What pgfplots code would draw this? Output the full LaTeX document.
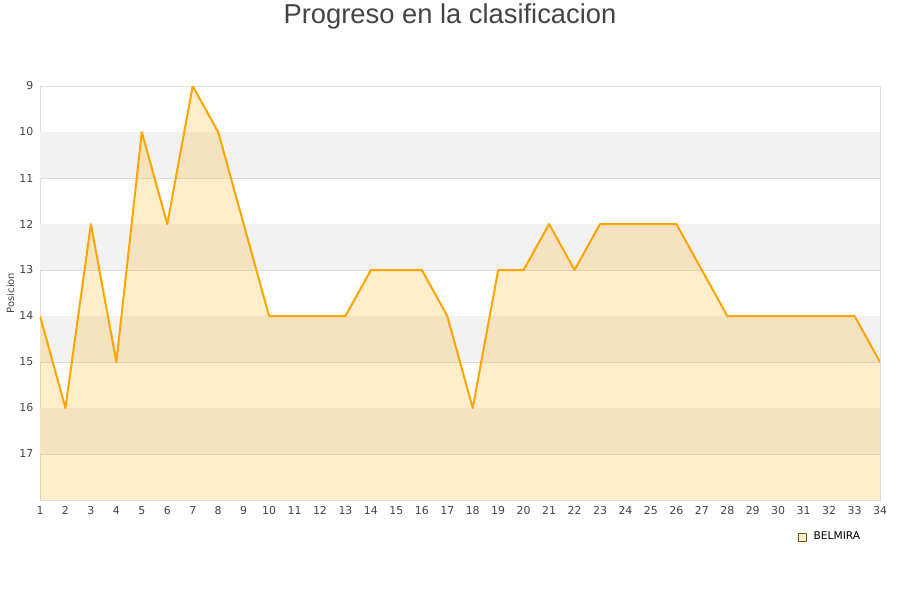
\documentclass[border=0pt]{standalone}
\usepackage{pgfplots}
\pgfplotsset{compat=1.18}
\usepackage{fontspec}
\setmainfont{DejaVu Sans}
\newfontfamily\titlefont{Liberation Sans}
\definecolor{ln}{HTML}{FFA500}
\definecolor{band}{HTML}{F2F2F2}
\definecolor{gridc}{HTML}{DDDDDD}
\definecolor{txt}{HTML}{444444}
\begin{document}
\begin{tikzpicture}
\useasboundingbox (0pt,0pt) rectangle (675pt,450pt);
\node[font=\titlefont\fontsize{20.5}{23}\selectfont, text=txt] at (337.5pt,437.5pt) {Progreso en la clasificacion};
\begin{axis}[
  at={(30pt,75pt)}, anchor=south west,
  scale only axis, width=630pt, height=310.5pt,
  xmin=1, xmax=34, ymin=9, ymax=18,
  y dir=reverse,
  xtick={1,...,34}, ytick={9,...,17},
  axis line style={gridc},
  ymajorgrids, grid style={gridc, line width=0.6pt},
  tick style={draw=none},
  tick label style={font=\fontsize{8.2}{9}\selectfont, text=txt},
  /pgf/number format/assume math mode=true,
  ylabel={Posicion},
  ylabel style={font=\fontsize{7.5}{9}\selectfont, text=txt, yshift=-3pt},
  yticklabel style={xshift=-1.5pt},
  xticklabel style={yshift=-1pt},
  legend style={at={(0.897,-0.089)}, anchor=west, draw=none, fill=none, font=\fontsize{8}{9}\selectfont},
  legend image code/.code={\draw[fill=ln!20, draw=ln!50!black, line width=0.4pt] (0pt,-3pt) rectangle (6pt,3pt);},
  clip=true,
]
\addplot[band, fill=band, draw=none, forget plot] coordinates {(1,10)(34,10)(34,11)(1,11)} -- cycle;
\addplot[band, fill=band, draw=none, forget plot] coordinates {(1,12)(34,12)(34,13)(1,13)} -- cycle;
\addplot[band, fill=band, draw=none, forget plot] coordinates {(1,14)(34,14)(34,15)(1,15)} -- cycle;
\addplot[band, fill=band, draw=none, forget plot] coordinates {(1,16)(34,16)(34,17)(1,17)} -- cycle;
\addplot[fill=ln, fill opacity=0.2, draw=none, forget plot] coordinates {
(1,14)(2,16)(3,12)(4,15)(5,10)(6,12)(7,9)(8,10)(9,12)(10,14)(11,14)(12,14)(13,14)(14,13)(15,13)(16,13)(17,14)(18,16)(19,13)(20,13)(21,12)(22,13)(23,12)(24,12)(25,12)(26,12)(27,13)(28,14)(29,14)(30,14)(31,14)(32,14)(33,14)(34,15)(34,18)(1,18)} -- cycle;
\addplot[ln, line width=1.5pt, line join=round] coordinates {
(1,14)(2,16)(3,12)(4,15)(5,10)(6,12)(7,9)(8,10)(9,12)(10,14)(11,14)(12,14)(13,14)(14,13)(15,13)(16,13)(17,14)(18,16)(19,13)(20,13)(21,12)(22,13)(23,12)(24,12)(25,12)(26,12)(27,13)(28,14)(29,14)(30,14)(31,14)(32,14)(33,14)(34,15)};
\addlegendentry{\hspace{3.5pt}BELMIRA}
\end{axis}
\end{tikzpicture}
\end{document}
